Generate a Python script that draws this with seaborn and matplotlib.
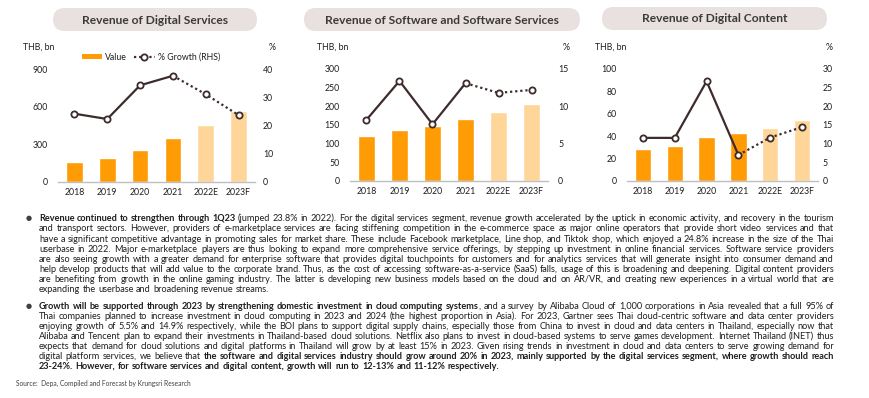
import math
import numpy as np
import pandas as pd
import matplotlib
matplotlib.use("Agg")
import matplotlib.pyplot as plt
import seaborn as sns
from matplotlib.patches import FancyBboxPatch, Patch
from matplotlib.lines import Line2D
from matplotlib.font_manager import FontProperties
from matplotlib.transforms import IdentityTransform
from matplotlib.backends.backend_agg import get_hinting_flag

# ---------------- data ----------------
years = ["2018", "2019", "2020", "2021", "2022E", "2023F"]
digital_services_value = [155, 190, 254, 350, 454, 566]
digital_services_growth = [24.2, 22.3, 34.3, 37.7, 31.1, 23.7]
software_value = [120, 136, 146, 166, 184, 206]
software_growth = [8.2, 13.4, 7.6, 13.1, 11.8, 12.2]
content_value = [28, 31, 39.5, 42.5, 47.5, 54]
content_growth = [11.5, 11.5, 26.7, 6.9, 11.6, 14.4]
is_forecast = [False, False, False, False, True, True]

titles = ["Revenue of Digital Services",
          "Revenue of Software and Software Services",
          "Revenue of Digital Content"]
value_ticks = [[0, 300, 600, 900], [0, 50, 100, 150, 200, 250, 300], [0, 20, 40, 60, 80, 100]]
growth_ticks = [[0, 10, 20, 30, 40], [0, 5, 10, 15], [0, 5, 10, 15, 20, 25, 30]]

para1 = [
    [("Revenue continued to strengthen through 1Q23", True),
     (" (jumped 23.8% in 2022). For the digital services segment, revenue growth accelerated by the uptick in economic activity, and recovery in the tourism", False)],
    [("and transport sectors. However, providers of e-marketplace services are facing stiffening competition in the e-commerce space as major online operators that provide short video services and that", False)],
    [("have a significant competitive advantage in promoting sales for market share. These include Facebook marketplace, Line shop, and Tiktok shop, which enjoyed a 24.8% increase in the size of the Thai", False)],
    [("userbase in 2022. Major e-marketplace players are thus looking to expand more comprehensive service offerings, by stepping up investment in online financial services. Software service providers", False)],
    [("are also seeing growth with a greater demand for enterprise software that provides digital touchpoints for customers and for analytics services that will generate insight into consumer demand and", False)],
    [("help develop products that will add value to the corporate brand. Thus, as the cost of accessing software-as-a-service (SaaS) falls, usage of this is broadening and deepening. Digital content providers", False)],
    [("are benefiting from growth in the online gaming industry. The latter is developing new business models based on the cloud and on AR/VR, and creating new experiences in a virtual world that are", False)],
    [("expanding the userbase and broadening revenue streams.", False)],
]
para2 = [
    [("Growth will be supported through 2023 by strengthening domestic investment in cloud computing systems", True),
     (", and a survey by Alibaba Cloud of 1,000 corporations in Asia revealed that a full 95% of", False)],
    [("Thai companies planned to increase investment in cloud computing in 2023 and 2024 (the highest proportion in Asia). For 2023, Gartner sees Thai cloud-centric software and data center providers", False)],
    [("enjoying growth of 5.5% and 14.9% respectively, while the BOI plans to support digital supply chains, especially those from China to invest in cloud and data centers in Thailand, especially now that", False)],
    [("Alibaba and Tencent plan to expand their investments in Thailand-based cloud solutions. Netflix also plans to invest in cloud-based systems to serve games development. Internet Thailand (INET) thus", False)],
    [("expects that demand for cloud solutions and digital platforms in Thailand will grow by at least 15% in 2023. Given rising trends in investment in cloud and data centers to serve growing demand for", False)],
    [("digital platform services, we believe that ", False),
     ("the software and digital services industry should grow around 20% in 2023, mainly supported by the digital services segment, where growth should reach", True)],
    [("23-24%. However, for software services and digital content, growth will run to 12-13% and 11-12% respectively.", True)],
]
source_text = "Source:  Depa, Compiled and Forecast by Krungsri Research"

# ---------------- style ----------------
sns.set_theme(style="white")
FONT = ["Lato", "DejaVu Sans"]
plt.rcParams["font.family"] = FONT

W, H = 870, 398
ORANGE = "#FF9B05"
LIGHT = "#FFD699"
LINEC = "#3E2C2C"
PILL = "#E9E1DF"
TXT = "#1E1E1E"
AXC = "#BFBFBF"

fig = plt.figure(figsize=(W / 100, H / 100), dpi=100)
fig.patch.set_facecolor("white")
renderer = fig.canvas.get_renderer()


def fp(size, bold=False, family=FONT):
    return FontProperties(family=family, size=size, weight="bold" if bold else "normal")


def tw(s, prop):
    w, h, d = renderer.get_text_width_height_descent(s, prop, ismath=False)
    return w


def fit(s, target, bold=False):
    return 10 * target / tw(s, fp(10, bold))


def ftext(x, y, s, **kw):
    return fig.text(x / W, 1 - y / H, s, **kw)


def snapped_baseline(s, prop, base):
    """Baseline (from top, px) that makes Agg draw the word's baseline on row `base`."""
    try:
        font = renderer._prepare_font(prop)
        font.set_text(s, 0, flags=get_hinting_flag())
        w64, h64 = font.get_width_height()
        d = font.get_descent() / 64.0
        h = h64 / 64.0
        n = base - math.floor(h - d) + math.floor(h)
        return n - d + 1e-3
    except Exception:
        return base


tick_size = fit("2018", 20.5)
title_size = fit(titles[1], 236, bold=True)

layout = [
    dict(box=(58, 255, 69.3, 181.7), pill=(53, 257, 8, 31), thb=23, pct=272, rpad=5.8),
    dict(box=(350, 548, 69, 181), pill=(304, 580, 8, 31), thb=317, pct=566, rpad=7.2),
    dict(box=(627, 818, 69, 180.7), pill=(602, 827, 7, 30), thb=595, pct=829, rpad=3.2),
]
values = [digital_services_value, software_value, content_value]
growths = [digital_services_growth, software_growth, content_growth]
xs = np.arange(len(years))

for i in range(3):
    L = layout[i]
    l, r, t, b = L["box"]
    ax = fig.add_axes([l / W, 1 - b / H, (r - l) / W, (b - t) / H])
    df = pd.DataFrame({"year": years, "value": values[i]})
    pal = {y: (LIGHT if f else ORANGE) for y, f in zip(years, is_forecast)}
    sns.barplot(data=df, x="year", y="value", hue="year", palette=pal, legend=False,
                width=0.51, saturation=1, ax=ax)
    ax.set_xlim(-0.5, len(years) - 0.5)
    ax.set_ylim(0, value_ticks[i][-1])
    ax.set_yticks(value_ticks[i])
    ax.set_xlabel("")
    ax.set_ylabel("")
    for s in ["top", "left", "right"]:
        ax.spines[s].set_visible(False)
    ax.spines["bottom"].set_color(AXC)
    ax.spines["bottom"].set_linewidth(1.0)
    ax.tick_params(axis="x", length=0, pad=4.5, labelsize=tick_size, labelcolor=TXT)
    ax.tick_params(axis="y", length=0, pad=7.2, labelsize=tick_size, labelcolor=TXT)
    ax.grid(False)
    ax.patch.set_alpha(0)

    ax2 = ax.twinx()
    g = growths[i]
    sns.lineplot(x=xs[:4], y=g[:4], ax=ax2, color=LINEC, lw=1.6)
    sns.lineplot(x=xs[3:], y=g[3:], ax=ax2, color=LINEC, lw=1.6, linestyle=(0, (1, 1.3)))
    sns.scatterplot(x=xs, y=g, ax=ax2, marker="o", s=20, color="white",
                    edgecolor=LINEC, linewidth=1.3, zorder=5)
    ax2.set_xlim(-0.5, len(years) - 0.5)
    ax2.set_ylim(0, growth_ticks[i][-1])
    ax2.set_yticks(growth_ticks[i])
    ax2.set_ylabel("")
    for s in ["top", "left", "right", "bottom"]:
        ax2.spines[s].set_visible(False)
    ax2.tick_params(axis="y", length=0, pad=L["rpad"], labelsize=tick_size, labelcolor=TXT)
    ax2.grid(False)

    # unit labels
    ftext(L["thb"], 47, "THB, bn", ha="left", va="center", size=tick_size, color=TXT)
    ftext(L["pct"], 47, "%", ha="center", va="center", size=tick_size, color=TXT)

    # title pill
    x0, x1, y0, y1 = L["pill"]
    hh = y1 - y0
    pill = FancyBboxPatch((x0, H - y1), x1 - x0, hh,
                          boxstyle=f"round,pad=0,rounding_size={hh / 2}",
                          transform=IdentityTransform(), facecolor=PILL, edgecolor="none")
    fig.patches.append(pill)
    ftext((x0 + x1) / 2, (y0 + y1) / 2 + 0.5, titles[i], ha="center", va="center",
          size=title_size, weight="bold", color="#3A3A3A")

    if i == 0:
        handles = [Patch(facecolor=ORANGE, edgecolor="none"),
                   Line2D([0], [0], color=LINEC, lw=1.6, linestyle=(0, (1, 1.3)), marker="o",
                          markersize=4.5, markerfacecolor="white", markeredgecolor=LINEC,
                          markeredgewidth=1.3)]
        fig.legend(handles, ["Value", "% Growth (RHS)"], loc="center",
                   bbox_to_anchor=(151 / W, 1 - 57 / H), ncol=2, frameon=False,
                   fontsize=tick_size, handlelength=2.3, handleheight=0.6,
                   columnspacing=0.8, handletextpad=0.4, labelcolor=TXT)

# ---------------- paragraphs ----------------
X0, X1 = 39, 834


def words_of(segments):
    words = []
    new_word = True
    for txt, bold in segments:
        parts = txt.split(" ")
        for k, p in enumerate(parts):
            if k > 0:
                new_word = True
            if p == "":
                continue
            if new_word or not words:
                words.append([(p, bold)])
                new_word = False
            else:
                words[-1].append((p, bold))
    return words


def natural(words, size):
    sp = tw("a a", fp(size)) - tw("aa", fp(size))
    ws = [sum(tw(p, fp(size, b)) for p, b in w) for w in words]
    return ws, sp


# auto-fit body size
ref = 10
maxw = 0
for para in (para1, para2):
    for line in para[:-1]:
        ws, sp = natural(words_of(line), ref)
        maxw = max(maxw, sum(ws) + sp * (len(ws) - 1))
body = ref * 1.0 * (X1 - X0) / maxw


def draw_para(para, y_center, pitch):
    for li, line in enumerate(para):
        words = words_of(line)
        ws, sp = natural(words, body)
        last = li == len(para) - 1
        if not last:
            sp = (X1 - X0 - sum(ws)) / (len(ws) - 1)
        x = X0
        base = int(round(y_center + li * pitch + 3.3))
        for w, wid in zip(words, ws):
            xx = x
            for p, b in w:
                prop = fp(body, b)
                yb = snapped_baseline(p, prop, base)
                ftext(xx, yb, p, ha="left", va="baseline", fontproperties=prop, color=TXT)
                xx += tw(p, prop)
            x += wid + sp
    ftext(29, y_center + 0.3, "\u25CF", ha="center", va="center", size=5,
          family=["DejaVu Sans"], color="#404040")


draw_para(para1, 218, 10.1)
draw_para(para2, 305.5, 10.1)

src_size = fit(source_text, 174)
ftext(16, 385.5, source_text, ha="left", va="baseline", size=src_size, color="#404040")

fig.savefig("out.png", dpi=100, facecolor="white")
